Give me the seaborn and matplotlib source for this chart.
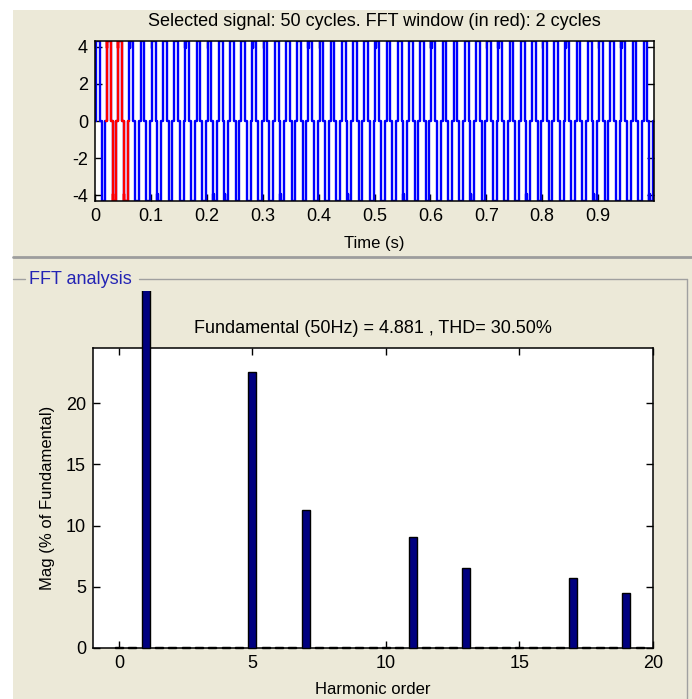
import numpy as np
import pandas as pd
import seaborn as sns
import matplotlib.pyplot as plt
from matplotlib.patches import Rectangle
from matplotlib.lines import Line2D
from matplotlib.transforms import Bbox, TransformedBbox

# one period of the inverter voltage: fraction of the period and level (V)
cycle_frac = [0, 0.083, 0.083, 0.090, 0.090, 0.100, 0.100, 0.417, 0.417,
              0.583, 0.583, 0.590, 0.590, 0.600, 0.600, 0.917, 0.917, 1.0]
cycle_volt = [0, 0, 4.32, 4.32, 3.95, 3.95, 4.32, 4.32, 0,
              0, -4.32, -4.32, -3.95, -3.95, -4.32, -4.32, 0, 0]
n_cycles = 50
f0 = 50
red_cycles = [1, 2]          # FFT window (2 cycles)

# FFT result (harmonic order, % of fundamental)
harm_order = [1, 5, 7, 11, 13, 17, 19]
harm_mag = [100, 22.5, 11.25, 9.04, 6.53, 5.71, 4.53]
other_mag = 0.12             # the rest of the bins, near zero
fft_step = 0.5               # 25 Hz resolution for a 2-cycle window
fft_max = 19.5

title_top = 'Selected signal: 50 cycles. FFT window (in red): 2 cycles'
title_fft = 'Fundamental (50Hz) = 4.881 , THD= 30.50%'

# ---- build tables
period = 1 / f0
rows = []
for k in range(n_cycles):
    for fr, v in zip(cycle_frac, cycle_volt):
        rows.append(((k + fr) * period, v, k))
sig = pd.DataFrame(rows, columns=['t', 'v', 'cycle'])
red = sig[sig.cycle.isin(red_cycles)]

orders = np.arange(0, fft_max + fft_step / 2, fft_step)
lookup = dict(zip(harm_order, harm_mag))
spec = pd.DataFrame({'order': orders,
                     'mag': [lookup.get(o, other_mag) for o in orders]})

# ---- style
sns.set_theme(style='white')
plt.rcParams['font.family'] = ['Liberation Sans', 'DejaVu Sans']
plt.rcParams['font.size'] = 13
plt.rcParams['axes.unicode_minus'] = False
plt.rcParams['text.color'] = 'black'
plt.rcParams['axes.labelcolor'] = 'black'
plt.rcParams['xtick.color'] = 'black'
plt.rcParams['ytick.color'] = 'black'
beige = '#ECE9D8'

W, H = 692, 699
fig = plt.figure(figsize=(W / 100, H / 100), dpi=100, facecolor='white')
fig.patches.append(Rectangle((13 / W, 0), 1, 1 - 10 / H, transform=fig.transFigure,
                             facecolor=beige, edgecolor='none', zorder=-10))

def px_axes(x0, y0, x1, y1):
    return fig.add_axes([x0 / W, 1 - y1 / H, (x1 - x0) / W, (y1 - y0) / H])

# ---- top: signal
ax1 = px_axes(95, 41, 654, 201)
sns.lineplot(data=sig, x='t', y='v', sort=False, estimator=None,
             color='#0000FF', lw=1.7, ax=ax1)
sns.lineplot(data=red, x='t', y='v', sort=False, estimator=None,
             color='#FF0000', lw=1.7, ax=ax1)
ax1.set_xlim(0, 1)
ax1.set_ylim(-4.32, 4.32)
ax1.set_xticks(np.round(np.arange(0, 1, 0.1), 1))
ax1.set_xticklabels(['0'] + [f'{x:.1f}' for x in np.arange(0.1, 0.95, 0.1)])
ax1.set_yticks([-4, -2, 0, 2, 4])
ax1.set_xlabel('Time (s)', labelpad=8)
ax1.set_ylabel('')
ax1.set_title(title_top, pad=11, fontsize=13, color='black')

# ---- bottom: FFT bars
ax2 = px_axes(93, 348, 653, 648)
sns.barplot(data=spec, x='order', y='mag', native_scale=True, orient='x',
            width=0.6, color='#000080', saturation=1, edgecolor='black',
            linewidth=1, errorbar=None, ax=ax2)
ax2.set_xlim(-0.97, 20)
ax2.set_ylim(0, 24.5)
ax2.set_xticks([0, 5, 10, 15, 20])
ax2.set_xticklabels(['0', '5', '10', '15', '20'])
ax2.set_yticks([0, 5, 10, 15, 20])
ax2.set_xlabel('Harmonic order', labelpad=7)
ax2.set_ylabel('Mag (% of Fundamental)', labelpad=8)
ax2.set_title(title_fft, pad=11, fontsize=13, color='black')

# bars are clipped by the panel, not by the axes
clip = TransformedBbox(Bbox([[0, 0], [1, 1 - 291 / H]]), fig.transFigure)
for p in ax2.patches:
    p.set_clip_path(None)
    p.set_clip_box(clip)
    p.set_zorder(3)

for ax in (ax1, ax2):
    ax.set_facecolor('white')
    ax.tick_params(direction='in', top=True, right=True, length=5, width=1,
                   color='black', labelsize=13, pad=5, bottom=True, left=True)
    for s in ax.spines.values():
        s.set_color('black')
        s.set_linewidth(1.1)

# ---- panel frame decorations
fig.lines.append(Line2D([13 / W, 1], [1 - 257 / H] * 2, transform=fig.transFigure,
                        color='#9D9D9D', lw=2))
fig.lines.append(Line2D([13 / W, 25 / W], [1 - 279 / H] * 2, transform=fig.transFigure,
                        color='#A0A0A0', lw=1))
fig.lines.append(Line2D([139 / W, 687 / W], [1 - 279 / H] * 2, transform=fig.transFigure,
                        color='#A0A0A0', lw=1))
fig.lines.append(Line2D([687 / W] * 2, [1 - 279 / H, 0], transform=fig.transFigure,
                        color='#A0A0A0', lw=1))
fig.text(29 / W, 1 - 279 / H, 'FFT analysis', color='#2424B4', fontsize=13,
         ha='left', va='center')

fig.savefig('out.png', dpi=100, facecolor=fig.get_facecolor())
